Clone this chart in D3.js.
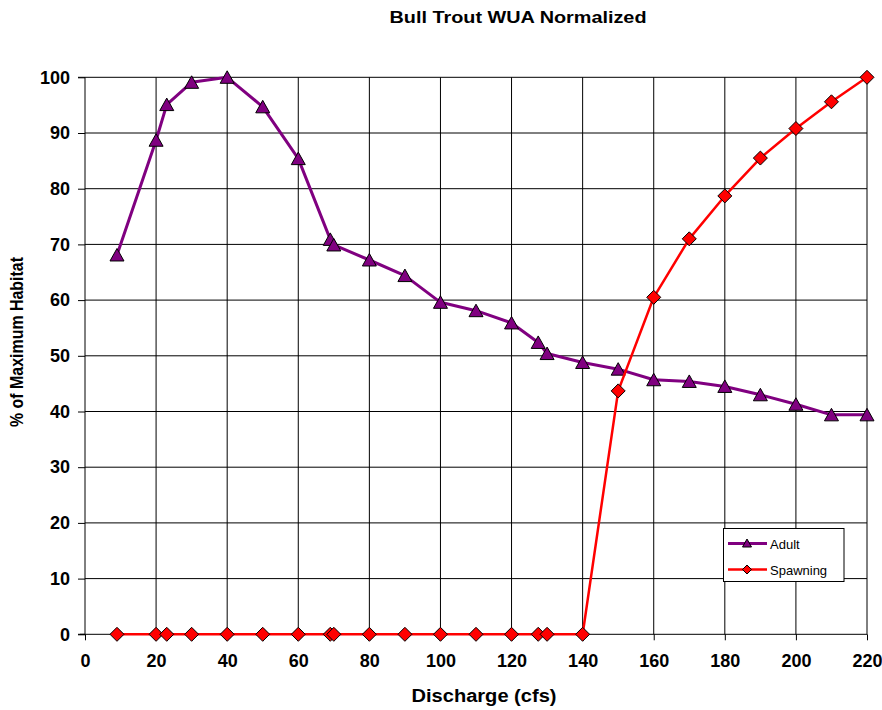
<!DOCTYPE html>
<html>
<head>
<meta charset="utf-8">
<script src="https://cdn.jsdelivr.net/npm/d3@7"></script>
<style>
  html, body { margin: 0; padding: 0; background: #fff; }
  svg { display: block; font-family: "Liberation Sans", Arial, sans-serif; }
</style>
</head>
<body>
<svg id="chart" width="882" height="710"></svg>
<script>
// ---- data ----
const discharge = [9, 20, 23, 30, 40, 50, 60, 69, 70, 80, 90, 100, 110, 120, 127.5, 130, 140, 150, 160, 170, 180, 190, 200, 210, 220];
const adult     = [68.1, 88.7, 95.1, 99.1, 100, 94.7, 85.4, 70.9, 69.9, 67.2, 64.4, 59.6, 58.1, 55.9, 52.4, 50.4, 48.8, 47.6, 45.7, 45.4, 44.5, 43.0, 41.3, 39.4, 39.4];
const spawning  = [0, 0, 0, 0, 0, 0, 0, 0, 0, 0, 0, 0, 0, 0, 0, 0, 0, 43.7, 60.5, 71.0, 78.7, 85.5, 90.8, 95.6, 100];
const xTicks = [0, 20, 40, 60, 80, 100, 120, 140, 160, 180, 200, 220];
const yTicks = [0, 10, 20, 30, 40, 50, 60, 70, 80, 90, 100];
const seriesNames = ["Adult", "Spawning"];
const titleText = "Bull Trout WUA Normalized";
const xTitle = "Discharge (cfs)";
const yTitle = "% of Maximum Habitat";

// ---- layout ----
const svg = d3.select("#chart");
const L = 85, R = 867, T = 77.3, B = 634.3;
const x = d3.scaleLinear().domain([0, 220]).range([L, R]);
const y = d3.scaleLinear().domain([0, 100]).range([B, T]);

// gridlines
const grid = svg.append("g");
grid.selectAll("line.v").data(xTicks.slice(1)).join("line")
  .attr("x1", d => x(d)).attr("x2", d => x(d)).attr("y1", T).attr("y2", B)
  .attr("stroke", "#000").attr("stroke-width", 1);
grid.selectAll("line.h").data(yTicks.slice(1)).join("line")
  .attr("x1", L).attr("x2", R).attr("y1", d => y(d)).attr("y2", d => y(d))
  .attr("stroke", "#000").attr("stroke-width", 1);

// axes
const xAxis = d3.axisBottom(x).tickValues(xTicks).tickSize(6).tickPadding(14).tickFormat(d3.format("d"));
const yAxis = d3.axisLeft(y).tickValues(yTicks).tickSize(7).tickPadding(8).tickFormat(d3.format("d"));
const gx = svg.append("g").attr("transform", `translate(0,${B})`).call(xAxis);
const gy = svg.append("g").attr("transform", `translate(${L},0)`).call(yAxis);
[gx, gy].forEach(g => {
  g.select(".domain").attr("stroke", "#000").attr("stroke-width", 1);
  g.selectAll(".tick line").attr("stroke", "#000");
  g.selectAll(".tick text").attr("fill", "#000")
    .attr("font-family", "Liberation Sans, Arial, sans-serif")
    .attr("font-size", 18).attr("font-weight", "bold");
});
gy.select(".domain").attr("d", `M${-7},${B}H0V${T}H-7`);
gx.select(".domain").attr("d", `M${L-5},0H${R}`);

// series
const pts = (ys) => discharge.map((d, i) => [x(d), y(ys[i])]);
const line = d3.line();
const tri = (cx, cy) => `M${cx},${cy-6.5}L${cx+7},${cy+6}L${cx-7},${cy+6}Z`;
const dia = (cx, cy) => `M${cx},${cy-7}L${cx+7},${cy}L${cx},${cy+7}L${cx-7},${cy}Z`;

const ga = svg.append("g");
ga.append("path").attr("d", line(pts(adult))).attr("fill", "none")
  .attr("stroke", "#800080").attr("stroke-width", 3).attr("stroke-linejoin", "round");
ga.selectAll("path.m").data(pts(adult)).join("path").attr("class", "m")
  .attr("d", d => tri(d[0], d[1])).attr("fill", "#800080").attr("stroke", "#000").attr("stroke-width", 1);

const gs = svg.append("g");
gs.append("path").attr("d", line(pts(spawning))).attr("fill", "none")
  .attr("stroke", "#ff0000").attr("stroke-width", 2.5).attr("stroke-linejoin", "round");
gs.selectAll("path.m").data(pts(spawning)).join("path").attr("class", "m")
  .attr("d", d => dia(d[0], d[1])).attr("fill", "#ff0000").attr("stroke", "#000").attr("stroke-width", 1);

// title & axis titles
svg.append("text").attr("x", 518).attr("y", 23).attr("text-anchor", "middle")
  .attr("font-size", 16).attr("font-weight", "bold")
  .attr("textLength", 257).attr("lengthAdjust", "spacingAndGlyphs").text(titleText);
svg.append("text").attr("x", 484).attr("y", 702).attr("text-anchor", "middle")
  .attr("font-size", 18).attr("font-weight", "bold")
  .attr("textLength", 145).attr("lengthAdjust", "spacingAndGlyphs").text(xTitle);
svg.append("text").attr("transform", "translate(23,342) rotate(-90)").attr("text-anchor", "middle")
  .attr("font-size", 18).attr("font-weight", "bold")
  .attr("textLength", 170).attr("lengthAdjust", "spacingAndGlyphs").text(yTitle);

// legend
const lg = svg.append("g");
lg.append("rect").attr("x", 723.5).attr("y", 528.5).attr("width", 120.5).attr("height", 53)
  .attr("fill", "#fff").attr("stroke", "#000").attr("stroke-width", 1);
const rows = [
  { name: seriesNames[0], color: "#800080", w: 3, mk: tri, y: 543.5 },
  { name: seriesNames[1], color: "#ff0000", w: 2.5, mk: dia, y: 569.5 }
];
rows.forEach(r => {
  lg.append("line").attr("x1", 728).attr("x2", 767).attr("y1", r.y).attr("y2", r.y)
    .attr("stroke", r.color).attr("stroke-width", r.w);
  const m = r.mk === tri
    ? `M747,${r.y-4.5}L751.5,${r.y+3.5}L742.5,${r.y+3.5}Z`
    : `M747,${r.y-4.5}L751.5,${r.y}L747,${r.y+4.5}L742.5,${r.y}Z`;
  lg.append("path").attr("d", m).attr("fill", r.color).attr("stroke", "#000").attr("stroke-width", 1);
  lg.append("text").attr("x", 770).attr("y", r.y + 5).attr("font-size", 13).text(r.name);
});
</script>
</body>
</html>
